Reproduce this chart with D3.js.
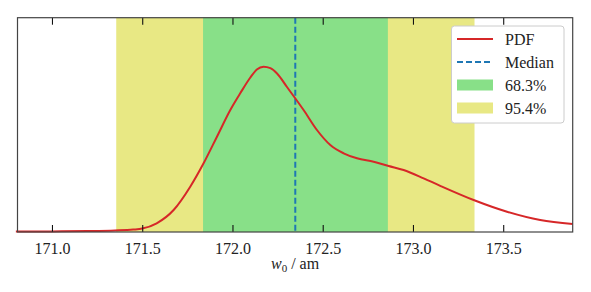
<!DOCTYPE html>
<html><head><meta charset="utf-8">
<script src="https://cdn.jsdelivr.net/npm/d3@7"></script>
<style>html,body{margin:0;padding:0;background:#fff;}svg{display:block;}
svg text{font-family:"Liberation Serif","Times New Roman" !important;}</style>
</head><body>
<script>
// PDF samples (x in am, density arbitrary units)
const pdfX = [170.80, 171.00, 171.20, 171.35, 171.45, 171.50, 171.58, 171.674, 171.766, 171.840, 171.914, 171.988, 172.043, 172.099, 172.135, 172.172, 172.210, 172.247, 172.302, 172.394, 172.468, 172.542, 172.616, 172.690, 172.782, 172.865, 172.948, 173.059, 173.151, 173.336, 173.521, 173.705, 173.885];
const pdfY = [0.004, 0.006, 0.009, 0.015, 0.024, 0.034, 0.087, 0.220, 0.453, 0.687, 0.953, 1.220, 1.387, 1.545, 1.625, 1.653, 1.638, 1.585, 1.450, 1.220, 1.020, 0.870, 0.787, 0.737, 0.703, 0.660, 0.620, 0.537, 0.462, 0.320, 0.203, 0.120, 0.080];
const median = 172.348;
const band68 = [171.837, 172.861];
const band95 = [171.356, 173.341];
const xTicks = [171.0, 171.5, 172.0, 172.5, 173.0, 173.5];
const legendLabels = ["PDF", "Median", "68.3%", "95.4%"];

const W = 591, H = 292;
const FF = '"Liberation Serif"';
const m = {left: 17.5, right: 591 - 572.7, top: 17.7, bottom: 292 - 232};
const svg = d3.select("body").append("svg").attr("width", W).attr("height", H).style("font-family", FF);
const x = d3.scaleLinear().domain([170.809, 173.885]).range([m.left, W - m.right]);
const y = d3.scaleLinear().domain([0, 2.143]).range([H - m.bottom, m.top]);
const cYellow = "#e8e884", cGreen = "#88e088", cRed = "#d62728", cBlue = "#1f77b4";

const g = svg.append("g");
g.append("rect").attr("x", x(band95[0])).attr("y", m.top).attr("width", x(band95[1]) - x(band95[0])).attr("height", y(0) - m.top).attr("fill", cYellow);
g.append("rect").attr("x", x(band68[0])).attr("y", m.top).attr("width", x(band68[1]) - x(band68[0])).attr("height", y(0) - m.top).attr("fill", cGreen);

g.append("line").attr("x1", x(median)).attr("x2", x(median)).attr("y1", m.top).attr("y2", y(0))
  .attr("stroke", cBlue).attr("stroke-width", 2).attr("stroke-dasharray", "6,3");

const pts = pdfX.map((v, i) => [v, pdfY[i]]);
g.append("path").datum(pts)
  .attr("d", d3.line().x(d => x(d[0])).y(d => y(d[1])).curve(d3.curveMonotoneX))
  .attr("fill", "none").attr("stroke", cRed).attr("stroke-width", 2);

// axes
const axB = d3.axisBottom(x).tickValues(xTicks).tickFormat(d3.format(".1f")).tickSizeInner(-7).tickSizeOuter(0).tickPadding(11);
const gb = svg.append("g").attr("transform", `translate(0,${y(0)})`).call(axB).attr("font-family", null).attr("font-size", null);
gb.select(".domain").remove();
gb.selectAll(".tick line").attr("stroke", "#111").attr("stroke-width", 1.1);
gb.selectAll(".tick text").style("font-family", FF).style("font-size", "16px").attr("fill", "#222");
const axT = d3.axisTop(x).tickValues(xTicks).tickFormat("").tickSizeInner(-7).tickSizeOuter(0);
const gt = svg.append("g").attr("transform", `translate(0,${m.top})`).call(axT);
gt.select(".domain").remove();
gt.selectAll(".tick line").attr("stroke", "#111").attr("stroke-width", 1.1);

svg.append("rect").attr("x", m.left).attr("y", m.top).attr("width", W - m.right - m.left).attr("height", y(0) - m.top)
  .attr("fill", "none").attr("stroke", "#444").attr("stroke-width", 1.2);

// x label
const lab = svg.append("text").attr("x", (m.left + W - m.right) / 2).attr("y", 269).attr("text-anchor", "middle")
  .style("font-family", FF).style("font-size", "16px").attr("fill", "#222");
lab.append("tspan").attr("font-style", "italic").text("w");
lab.append("tspan").style("font-size", "11px").attr("dy", 3).text("0");
lab.append("tspan").attr("dy", -3).text(" / am");

// legend
const lg = svg.append("g");
lg.append("rect").attr("x", 451.5).attr("y", 26).attr("width", 112.5).attr("height", 97).attr("rx", 3)
  .attr("fill", "#fff").attr("stroke", "#ccc").attr("stroke-width", 1);
const rowY = [39, 62, 85, 108];
lg.append("line").attr("x1", 457).attr("x2", 493).attr("y1", rowY[0]).attr("y2", rowY[0]).attr("stroke", cRed).attr("stroke-width", 2);
lg.append("line").attr("x1", 457).attr("x2", 493).attr("y1", rowY[1]).attr("y2", rowY[1]).attr("stroke", cBlue).attr("stroke-width", 2).attr("stroke-dasharray", "6,3");
lg.append("rect").attr("x", 457).attr("y", rowY[2] - 5.5).attr("width", 36).attr("height", 11).attr("fill", cGreen);
lg.append("rect").attr("x", 457).attr("y", rowY[3] - 5.5).attr("width", 36).attr("height", 11).attr("fill", cYellow);
legendLabels.forEach((t, i) => {
  lg.append("text").attr("x", 505).attr("y", rowY[i] + 5.5).style("font-family", FF).style("font-size", "16px").attr("fill", "#222").text(t);
});
</script>
</body></html>
